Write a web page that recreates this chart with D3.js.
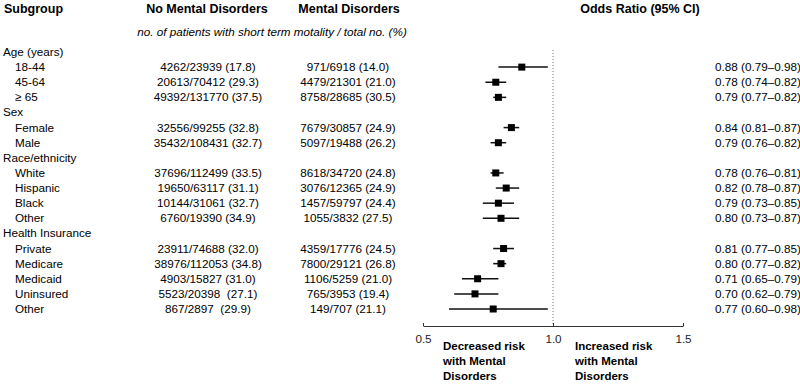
<!DOCTYPE html>
<html>
<head>
<meta charset="utf-8">
<script src="https://cdn.jsdelivr.net/npm/d3@7"></script>
<style>
  body { margin: 0; background: #fff; }
  svg { font-family: "Liberation Sans", Arial, sans-serif; }
</style>
</head>
<body>
<svg id="vis" width="800" height="384"></svg>
<script>
// rows of the table, top to bottom
const labels = ["Age (years)", "18-44", "45-64", "\u2265 65", "Sex", "Female", "Male",
  "Race/ethnicity", "White", "Hispanic", "Black", "Other",
  "Health Insurance", "Private", "Medicare", "Medicaid", "Uninsured", "Other"];
const isGroup = [1, 0, 0, 0, 1, 0, 0, 1, 0, 0, 0, 0, 1, 0, 0, 0, 0, 0];
const noMental = ["", "4262/23939 (17.8)", "20613/70412 (29.3)", "49392/131770 (37.5)", "",
  "32556/99255 (32.8)", "35432/108431 (32.7)", "",
  "37696/112499 (33.5)", "19650/63117 (31.1)", "10144/31061 (32.7)", "6760/19390 (34.9)", "",
  "23911/74688 (32.0)", "38976/112053 (34.8)", "4903/15827 (31.0)", "5523/20398  (27.1)", "867/2897  (29.9)"];
const mental = ["", "971/6918 (14.0)", "4479/21301 (21.0)", "8758/28685 (30.5)", "",
  "7679/30857 (24.9)", "5097/19488 (26.2)", "",
  "8618/34720 (24.8)", "3076/12365 (24.9)", "1457/59797 (24.4)", "1055/3832 (27.5)", "",
  "4359/17776 (24.5)", "7800/29121 (26.8)", "1106/5259 (21.0)", "765/3953 (19.4)", "149/707 (21.1)"];
const orVal = [null, 0.88, 0.78, 0.79, null, 0.84, 0.79, null, 0.78, 0.82, 0.79, 0.80, null, 0.81, 0.80, 0.71, 0.70, 0.77];
const ciLo  = [null, 0.79, 0.74, 0.77, null, 0.81, 0.76, null, 0.76, 0.78, 0.73, 0.73, null, 0.77, 0.77, 0.65, 0.62, 0.60];
const ciHi  = [null, 0.98, 0.82, 0.82, null, 0.87, 0.82, null, 0.81, 0.87, 0.85, 0.87, null, 0.85, 0.82, 0.79, 0.79, 0.98];
const axisTicks = [0.5, 1.0, 1.5];

const fs = 11.7;
let svg = d3.select("#vis");

let x = d3.scaleLinear().domain([0.5, 1.5]).range([423, 683]);
let y = d3.scaleLinear().domain([0, labels.length - 1]).range([52, 309]);
const idx = d3.range(labels.length);

// headers
const head = [
  {t: "Subgroup", x: 4, a: "start"},
  {t: "No Mental Disorders", x: 207, a: "middle"},
  {t: "Mental Disorders", x: 349, a: "middle"},
  {t: "Odds Ratio (95% CI)", x: 640, a: "middle"}
];
svg.selectAll(".head").data(head).enter().append("text")
  .attr("x", d => d.x).attr("y", 13)
  .attr("text-anchor", d => d.a)
  .attr("font-size", 12.5).attr("font-weight", "bold")
  .text(d => d.t);

svg.append("text")
  .attr("x", 272).attr("y", 36)
  .attr("text-anchor", "middle")
  .attr("font-size", fs).attr("font-style", "italic")
  .text("no. of patients with short term motality / total no. (%)");

// table columns
svg.selectAll(".lab").data(idx).enter().append("text")
  .attr("x", i => isGroup[i] ? 3 : 15)
  .attr("y", i => y(i) + 4)
  .attr("font-size", fs)
  .text(i => labels[i]);

svg.selectAll(".c1").data(idx).enter().append("text")
  .attr("x", 208).attr("y", i => y(i) + 4)
  .attr("text-anchor", "middle")
  .attr("font-size", fs)
  .style("white-space", "pre")
  .text(i => noMental[i]);

svg.selectAll(".c2").data(idx).enter().append("text")
  .attr("x", 348).attr("y", i => y(i) + 4)
  .attr("text-anchor", "middle")
  .attr("font-size", fs)
  .text(i => mental[i]);

const est = idx.filter(i => orVal[i] != null);
svg.selectAll(".ortxt").data(est).enter().append("text")
  .attr("x", 715).attr("y", i => y(i) + 4)
  .attr("font-size", fs)
  .text(i => `${orVal[i].toFixed(2)} (${ciLo[i].toFixed(2)}\u2013${ciHi[i].toFixed(2)})`);

// reference line at 1
svg.append("line")
  .attr("x1", x(1)).attr("x2", x(1))
  .attr("y1", 50).attr("y2", 326)
  .attr("stroke", "#777").attr("stroke-width", 1)
  .attr("stroke-dasharray", "1,2");

// axis
let ax = svg.append("g")
  .attr("transform", "translate(0, 326)")
  .call(d3.axisBottom(x).tickValues(axisTicks).tickFormat(d3.format(".1f"))
    .tickSizeInner(-3).tickSizeOuter(0).tickPadding(9));
ax.select(".domain").attr("stroke", "#333");
ax.selectAll(".tick line").attr("stroke", "#333");
ax.selectAll(".tick text").attr("font-size", fs).attr("fill", "#222")
  .attr("font-family", "Liberation Sans, Arial, sans-serif");

// CI and point estimates
svg.selectAll(".ci").data(est).enter().append("line")
  .attr("x1", i => x(ciLo[i])).attr("x2", i => x(ciHi[i]))
  .attr("y1", i => y(i)).attr("y2", i => y(i))
  .attr("stroke", "#111").attr("stroke-width", 1.5);

const sq = 7;
svg.selectAll(".pt").data(est).enter().append("rect")
  .attr("x", i => x(orVal[i]) - sq / 2).attr("y", i => y(i) - sq / 2)
  .attr("width", sq).attr("height", sq)
  .attr("fill", "#000");

// direction notes
const notes = [
  {x: 443, lines: ["Decreased risk", "with Mental", "Disorders"]},
  {x: 575, lines: ["Increased risk", "with Mental", "Disorders"]}
];
notes.forEach(n => {
  svg.append("g").selectAll("text").data(n.lines).enter().append("text")
    .attr("x", n.x).attr("y", (d, k) => 350 + k * 15)
    .attr("font-size", 11.5).attr("font-weight", "bold")
    .text(d => d);
});
</script>
</body>
</html>
